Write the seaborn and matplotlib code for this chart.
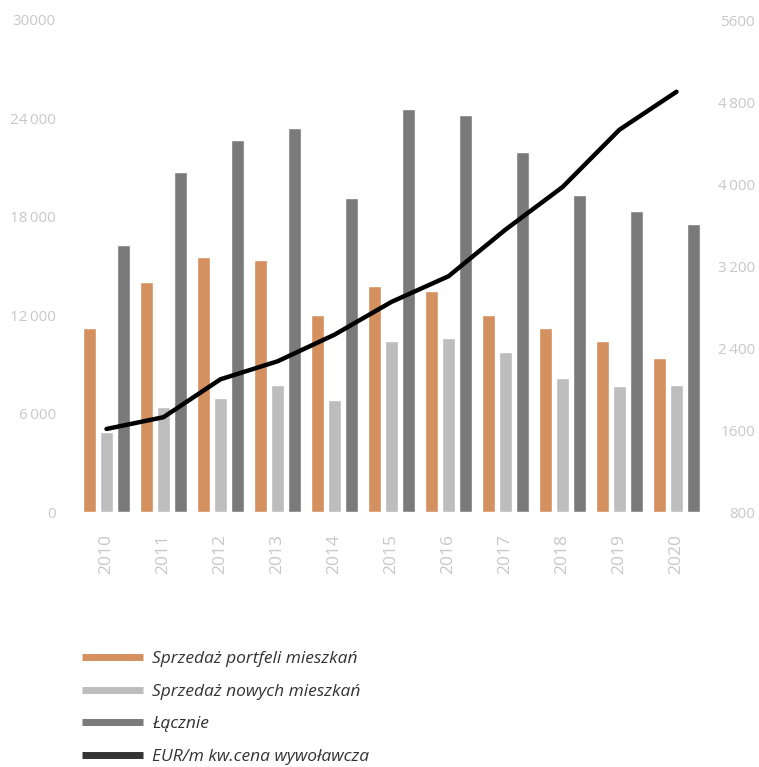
import matplotlib
matplotlib.use("Agg")
import matplotlib.pyplot as plt
from matplotlib.lines import Line2D
import seaborn as sns
import pandas as pd
import numpy as np

# Data
years = ["2010", "2011", "2012", "2013", "2014", "2015", "2016", "2017", "2018", "2019", "2020"]
portfolio_sales = [11200, 14050, 15550, 15350, 12000, 13780, 13450, 12000, 11200, 10420, 9400]
new_sales = [4880, 6400, 6950, 7740, 6830, 10430, 10600, 9760, 8170, 7680, 7740]
total = [16280, 20730, 22680, 23400, 19150, 24570, 24210, 21950, 19330, 18350, 17560]
price_eur = [1610, 1725, 2095, 2270, 2530, 2850, 3100, 3555, 3970, 4530, 4900]

series_names = ["Sprzedaż portfeli mieszkań", "Sprzedaż nowych mieszkań", "Łącznie"]
line_name = "EUR/m kw.cena wywoławcza"
left_ticks = [0, 6000, 12000, 18000, 24000, 30000]
left_labels = ["0", "6\u2009000", "12\u2009000", "18\u2009000", "24\u2009000", "30000"]
right_ticks = [800, 1600, 2400, 3200, 4000, 4800, 5600]
right_labels = ["800", "1600", "2\u2009400", "3\u2009200", "4\u2009000", "4\u2009800", "5600"]

colors = ["#D4905E", "#BDBDBD", "#7A7A7A"]
line_color = "#000000"
tick_color = "#C8C8C8"
text_color = "#333333"

sns.set_theme(style="white")
plt.rcParams["font.family"] = ["Open Sans", "DejaVu Sans"]

df = pd.DataFrame({
    "year": years * 3,
    "value": portfolio_sales + new_sales + total,
    "series": [s for s in series_names for _ in years],
})

fig = plt.figure(figsize=(7.59, 7.67), dpi=100)
ax = fig.add_axes([78 / 759, 255 / 767, 627 / 759, 492 / 767])

sns.barplot(data=df, x="year", y="value", hue="series", palette=colors,
            width=0.895, gap=0.18, saturation=1, ax=ax, legend=False)
ax.set_xlim(-0.5, len(years) - 0.5)
ax.set_ylim(0, 30000)
ax.set_yticks(left_ticks)
ax.set_yticklabels(left_labels)
ax.set_xlabel("")
ax.set_ylabel("")
ax.tick_params(axis="y", length=0, pad=16, labelsize=11, labelcolor=tick_color)
ax.tick_params(axis="x", length=0, pad=16, labelsize=12.5, labelcolor=tick_color,
               labelrotation=90)

ax2 = ax.twinx()
sns.lineplot(x=np.arange(len(years)), y=price_eur, color=line_color, lw=3.2, ax=ax2)
ax2.set_ylim(800, 5600)
ax2.set_yticks(right_ticks)
ax2.set_yticklabels(right_labels, ha="right")
ax2.tick_params(axis="y", length=0, pad=36, labelsize=11, labelcolor=tick_color)
ax2.set_xlim(-0.5, len(years) - 0.5)

for a in (ax, ax2):
    for sp in a.spines.values():
        sp.set_visible(False)
    a.grid(False)

handles = [Line2D([0], [0], color=c, lw=5, solid_capstyle="butt") for c in colors]
handles.append(Line2D([0], [0], color=text_color, lw=5, solid_capstyle="butt"))
leg = fig.legend(handles, series_names + [line_name], loc="upper left",
                 bbox_to_anchor=(70 / 759, 1 - 639 / 767), frameon=False,
                 handlelength=3.5, handletextpad=0.55, labelspacing=0.94,
                 borderaxespad=0.3, prop={"size": 12.5, "style": "italic"})
for t in leg.get_texts():
    t.set_color(text_color)

fig.savefig("out.png", dpi=100)
